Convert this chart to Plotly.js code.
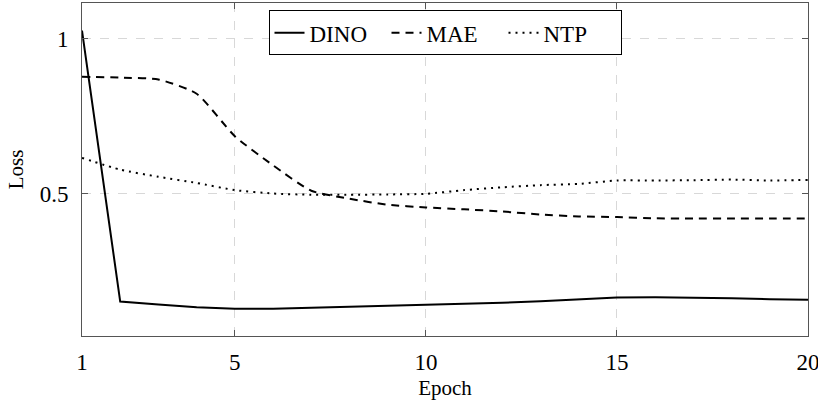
<!DOCTYPE html>
<html>
<head>
<meta charset="utf-8">
<script src="https://cdn.plot.ly/plotly-3.0.1.min.js"></script>
<style>html,body{margin:0;padding:0;background:#fff;}#chart{width:818px;height:400px;}</style>
</head>
<body>
<div id="chart"></div>
<script>
const epochs = [1,2,3,4,5,6,7,8,9,10,11,12,13,14,15,16,17,18,19,20];
const dino = [1.027,0.152,0.143,0.134,0.129,0.129,0.132,0.135,0.138,0.140,0.143,0.148,0.153,0.159,0.165,0.166,0.165,0.163,0.160,0.158];
const mae  = [0.878,0.875,0.869,0.823,0.686,0.592,0.510,0.484,0.465,0.456,0.450,0.443,0.433,0.427,0.425,0.421,0.420,0.420,0.420,0.420];
const ntp  = [0.616,0.578,0.555,0.535,0.512,0.501,0.497,0.497,0.498,0.500,0.512,0.521,0.528,0.532,0.543,0.543,0.544,0.546,0.543,0.545];
const seriesNames = ['DINO','MAE','NTP'];
const xTicks = [1,5,10,15,20];
const yTicks = [0.5,1];
const yTickText = ['0.5','1'];

const font = 'Liberation Serif';
const traces = [
  {x: epochs, y: dino, name: seriesNames[0], mode:'lines', line:{color:'#000', width:2, dash:'solid'}},
  {x: epochs, y: mae, name: seriesNames[1], mode:'lines', line:{color:'#000', width:2, dash:'8px,6px', shape:'spline', smoothing:0.6}},
  {x: epochs, y: ntp, name: seriesNames[2], mode:'lines', line:{color:'#000', width:2, dash:'2px,5px', shape:'spline', smoothing:0.6}}
];
const layout = {
  width: 818, height: 400,
  margin: {l:82, r:10, t:3, b:64},
  paper_bgcolor:'#fff', plot_bgcolor:'#fff',
  font: {family: font, size: 23, color:'#000'},
  showlegend: true,
  legend: {orientation:'h', x:0.5, xanchor:'center', y:0.978, yanchor:'top',
           bordercolor:'#000', borderwidth:1, bgcolor:'#fff',
           entrywidth:72, entrywidthmode:'pixels',
           font:{family:font, size:23, color:'#000'}, tracegroupgap:0},
  xaxis: {range:[1,20], tickvals:xTicks, ticktext:xTicks.map(String),
          showline:true, linecolor:'#555', linewidth:1, mirror:'ticks',
          ticks:'inside', ticklen:6, tickcolor:'#555',
          showgrid:true, gridcolor:'#d8d8d8', griddash:'dash', gridwidth:1,
          zeroline:false, ticklabelstandoff:5, ticklabeloverflow:'allow',
          tickfont:{family:font, size:23},
          title:{text:'Epoch', font:{family:font, size:21}, standoff:8}},
  yaxis: {range:[0.041,1.116], tickvals:yTicks, ticktext:yTickText,
          showline:true, linecolor:'#555', linewidth:1, mirror:'ticks',
          ticks:'inside', ticklen:6, tickcolor:'#555',
          showgrid:true, gridcolor:'#d8d8d8', griddash:'dash', gridwidth:1,
          zeroline:false, ticklabelstandoff:8,
          tickfont:{family:font, size:23},
          title:{text:'Loss', font:{family:font, size:21}, standoff:10}}
};
Plotly.newPlot('chart', traces, layout, {displayModeBar:false, staticPlot:true});
</script>
</body>
</html>
